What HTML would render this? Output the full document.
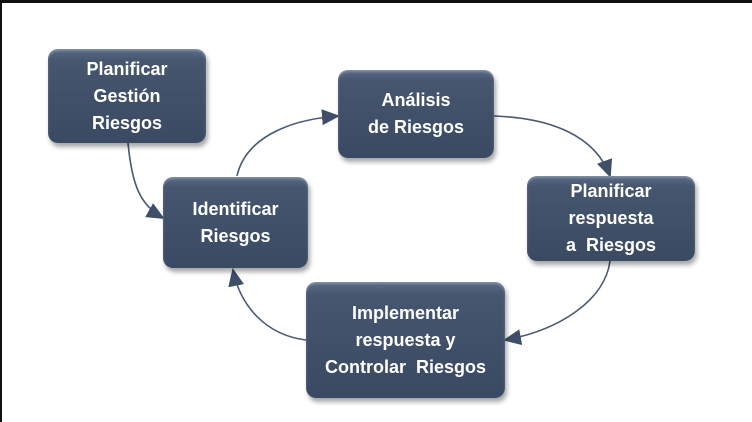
<!DOCTYPE html>
<html><head><meta charset="utf-8"><style>
html,body{margin:0;padding:0}
body{width:752px;height:422px;background:#fff;position:relative;overflow:hidden;font-family:"Liberation Sans",sans-serif}
.frame{position:absolute;left:0;top:0;width:752px;height:422px;border-top:3px solid #111;border-left:2px solid #111;box-sizing:border-box}
.b{position:absolute;box-sizing:border-box;border-radius:10px;
background:linear-gradient(180deg,#5a6b86 0%,#46566f 12%,#3f4f68 60%,#3a4a63 100%);
box-shadow:2px 4px 5px rgba(0,0,0,0.35), inset 0 2px 2px rgba(255,255,255,0.25);
color:#fff;font-weight:bold;font-size:18px;line-height:27px;text-align:center;display:flex;align-items:center;justify-content:center;white-space:pre}
svg{position:absolute;left:0;top:0}
</style></head><body>
<div class="frame"></div>
<svg width="752" height="422">
<defs><marker id="m" markerWidth="18" markerHeight="16" refX="16" refY="8" orient="auto" markerUnits="userSpaceOnUse"><path d="M0,0 L18,8 L0,16 Z" fill="#3f4f68"/></marker></defs>
<g fill="none" stroke="#4a5a72" stroke-width="1.6">
<path d="M128,143 C132,185 140,205 163,218" marker-end="url(#m)"/>
<path d="M237,176 C245,140 285,120 338,116" marker-end="url(#m)"/>
<path d="M494,116 C550,118 595,135 610,176" marker-end="url(#m)"/>
<path d="M610,261 C605,300 560,330 505,340" marker-end="url(#m)"/>
<path d="M306,340 C265,335 240,305 233,270" marker-end="url(#m)"/>
</g>
</svg>
<div class="b" style="left:48px;top:49px;width:158px;height:94px">Planificar
Gestión
Riesgos</div>
<div class="b" style="left:338px;top:70px;width:156px;height:88px">Análisis
de Riesgos</div>
<div class="b" style="left:163px;top:177px;width:145px;height:91px">Identificar
Riesgos</div>
<div class="b" style="left:527px;top:176px;width:168px;height:85px">Planificar
respuesta
a  Riesgos</div>
<div class="b" style="left:306px;top:282px;width:199px;height:116px">Implementar
respuesta y
Controlar  Riesgos</div>
</body></html>
